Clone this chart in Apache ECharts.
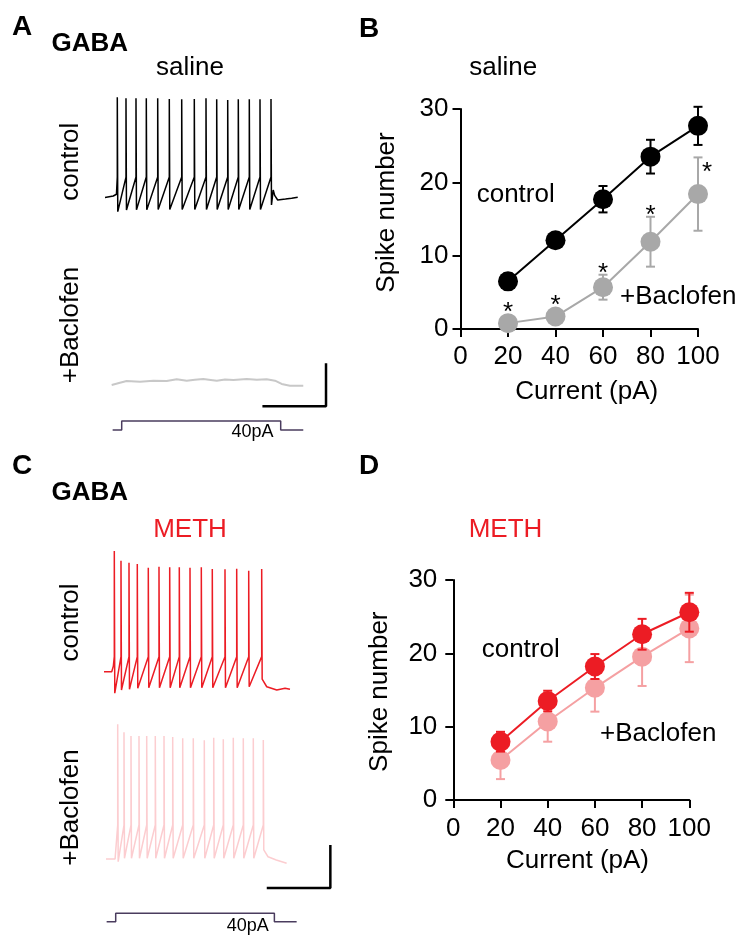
<!DOCTYPE html>
<html><head><meta charset="utf-8">
<script src="https://cdn.jsdelivr.net/npm/echarts@6/dist/echarts.min.js"></script>
<style>html,body{margin:0;padding:0;background:#fff}#c{width:754px;height:949px}</style>
</head><body><div id="c"></div>
<script>
// ---------- F-I curve data (panels B and D) ----------
const currents = [20, 40, 60, 80, 100];
const xTicks = [0, 20, 40, 60, 80, 100];
const yTicks = [0, 10, 20, 30];
const salineCtrlMean = [6.5, 12.1, 17.7, 23.5, 27.7];
const salineCtrlErr  = [1.1, 0.5, 1.8, 2.3, 2.6];
const salineBacMean  = [0.8, 1.7, 5.7, 11.9, 18.4];
const salineBacErr   = [0.3, 0.3, 1.7, 3.4, 5.0];
const salineBacSig   = ['*', '*', '*', '*', '*'];
const methCtrlMean   = [7.95, 13.5, 18.2, 22.6, 25.6];
const methCtrlErr    = [1.35, 1.4, 1.7, 2.1, 2.65];
const methBacMean    = [5.45, 10.7, 15.3, 19.55, 23.4];
const methBacErr     = [2.6, 2.75, 3.25, 4.0, 4.6];

// ---------- example traces (time in ms from step onset, voltage in mV) ----------
// panel A, saline control
const aCtrlPre     = [[-105, -60], [-53, -58.6], [-33, -57]];
const aCtrlSpikeT  = [-27.7, 27, 89.9, 154.7, 226.4, 299.4, 377.4, 456.6, 530.2, 597.5, 666.7, 733.3, 802.5, 869.8, 939];
const aCtrlPeak    = [33.2, 32.3, 32.3, 32.3, 32.3, 31.6, 31.3, 31.6, 32.3, 31.3, 30.7, 31.3, 31.3, 31.3, 31.6];
const aCtrlThresh  = -41;
const aCtrlTrough  = [-73.2, -71.6, -71.5, -71.5, -71.2, -71.2, -71.2, -71.2, -71.2, -71.2, -71.2, -71.2, -71.2, -71.2, -67];
const aCtrlPost    = [[953, -53], [962, -58], [981, -62.3], [1030, -61.5], [1069, -60.7], [1107, -59.8]];
// panel A, saline + baclofen (no spikes)
const aBacTrace = [[-63, -59.3], [-11, -57.2], [31, -55.6], [115, -56.3], [199, -55.3], [283, -55.6], [346, -54],
  [409, -55.3], [460, -54.4], [513, -53.8], [560, -54.6], [598, -55.3], [650, -54.2], [702, -54.7], [745, -54.2], [786, -53.8],
  [850, -54.5], [912, -54], [964, -55.3], [1006, -58.4], [1058, -60], [1142, -60]];
// panel C, METH control
const cCtrlPre     = [[-73.6, -60], [-25, -60], [-15, -55]];
const cCtrlSpikeT  = [-8.8, 33.3, 83.6, 135.8, 205, 272.3, 339.6, 400, 467.3, 538.4, 607.5, 687.4, 761, 836.5, 918.2];
const cCtrlPeak    = [52.3, 43.3, 41.4, 40.2, 36.7, 37.7, 37.1, 37.1, 36.7, 37.1, 35.5, 35.3, 35.8, 34, 35.5];
const cCtrlThresh  = -46;
const cCtrlTrough  = [-80, -77, -76.4, -75.4, -74.9, -74.9, -74.9, -74.9, -74.9, -74.9, -74.9, -74.9, -74.9, -74, -67];
const cCtrlPost    = [[928, -67.5], [950, -74], [1013, -77], [1065, -75.4], [1096, -76.4]];
// panel C, METH + baclofen
const cBacPre      = [[-61, -60], [-4, -60]];
const cBacSpikeT   = [12.6, 52.2, 96.2, 146.5, 195, 249, 303.8, 358.5, 421.4, 488, 557.2, 616.4, 676.7, 739.6, 802.5, 865.4, 928.3];
const cBacPeak     = [65.3, 57.9, 54.4, 54.4, 54.4, 54.4, 54.4, 53.5, 52.3, 52.3, 50.4, 52.8, 51.3, 52.8, 52.3, 52.3, 50.7];
const cBacThresh   = -28.4;
const cBacTrough   = [-62.5, -59.3, -59.3, -59.3, -59.3, -59.3, -59.3, -59.3, -59.3, -59.3, -59.3, -59.3, -59.3, -59.3, -59.3, -59.3, -51.6];
const cBacPost     = [[958, -57.9], [1010, -60.9], [1075, -64]];
// current step (pA) and scale bars (400 ms, 40 mV)
const stimA = [[-57, 0], [0, 0], [0, 40], [1000, 40], [1000, 0], [1142, 0]];
const stimC = [[-57, 0], [0, 0], [0, 40], [998, 40], [998, 0], [1138, 0]];
const scaleBarA = [[885, -79], [1285, -79], [1285, -39]];
const scaleBarC = [[950, -87], [1350, -87], [1350, -47]];

function buildTrace(pre, times, peaks, thr, troughs, post) {
  const pts = pre.map(p => p.slice());
  times.forEach((t, i) => { pts.push([t, thr]); pts.push([t, peaks[i]]); pts.push([t + 3, troughs[i]]); });
  return pts.concat(post);
}

const FONT = '"Liberation Sans", Arial, Helvetica, sans-serif';
const RED = '#ec1c24', PINK = '#f5a0a2', PINK_TR = '#fccdd0', GRAY = '#a8a8a8', GRAY_TR = '#c8c8c8', STIM = '#4a3c5e';

function errRender(color, sig) {
  return function (params, api) {
    const x = api.value(0), m = api.value(1), e = api.value(2);
    const pT = api.coord([x, m + e]), pB = api.coord([x, m - e]), pM = api.coord([x, m]);
    const hw = 4.5, st = { stroke: color, lineWidth: 2 };
    const ch = [
      { type: 'line', shape: { x1: pT[0], y1: pT[1], x2: pB[0], y2: pB[1] }, style: st },
      { type: 'line', shape: { x1: pT[0] - hw, y1: pT[1], x2: pT[0] + hw, y2: pT[1] }, style: st },
      { type: 'line', shape: { x1: pB[0] - hw, y1: pB[1], x2: pB[0] + hw, y2: pB[1] }, style: st }
    ];
    if (sig && sig[params.dataIndex]) {
      const last = params.dataIndex === sig.length - 1;
      const top = Math.min(pT[1], pM[1] - 10);
      ch.push({ type: 'text', x: last ? pT[0] + 9 : pT[0], y: last ? pT[1] + 15 : top - 0.5,
        style: { text: sig[params.dataIndex], fontSize: 26, fontFamily: FONT, fill: '#000', align: 'center', verticalAlign: 'middle' } });
    }
    return { type: 'group', children: ch };
  };
}

function zip3(a, b, c) { return a.map((v, i) => [v, b[i], c[i]]); }
function zip2(a, b) { return a.map((v, i) => [v, b[i]]); }

function fiAxes(g, labelMarginX, labelMarginY) {
  const common = {
    type: 'value', gridIndex: g,
    axisLine: { show: true, lineStyle: { color: '#000', width: 2 } },
    axisTick: { show: true, length: 8, lineStyle: { color: '#000', width: 2 } },
    splitLine: { show: false },
    axisLabel: { color: '#000', fontSize: 26, fontFamily: FONT }
  };
  return {
    x: Object.assign({}, common, { min: xTicks[0], max: xTicks[xTicks.length - 1], interval: xTicks[1] - xTicks[0],
      axisLabel: Object.assign({}, common.axisLabel, { margin: labelMarginX }) }),
    y: Object.assign({}, common, { min: yTicks[0], max: yTicks[yTicks.length - 1], interval: yTicks[1] - yTicks[0],
      axisLabel: Object.assign({}, common.axisLabel, { margin: labelMarginY }) })
  };
}
const axB = fiAxes(0, 15, 12), axD = fiAxes(1, 16, 16);
function hid(g, min, max) { return { type: 'value', gridIndex: g, min: min, max: max, show: false }; }
function gridOf(l, t, w, h) { return { left: l, top: t, width: w, height: h, containLabel: false, outerBoundsMode: 'none' }; }

const TW = 246.45; // 1550 ms at 0.159 px/ms
const option = {
  animation: false,
  backgroundColor: '#fff',
  textStyle: { fontFamily: FONT },
  grid: [
    gridOf(460.5, 109, 237.5, 220),   // 0 B
    gridOf(453.3, 580, 236, 220),     // 1 D
    gridOf(97.85, 68.5, TW, 161.25),  // 2 A control
    gridOf(97.85, 256.7, TW, 161.25), // 3 A baclofen
    gridOf(97.85, 416.5, TW, 18),     // 4 A stim
    gridOf(91.85, 542.7, TW, 161.25), // 5 C control
    gridOf(91.85, 708.5, TW, 182.75), // 6 C baclofen
    gridOf(91.85, 909.1, TW, 16.8)    // 7 C stim
  ],
  xAxis: [axB.x, axD.x, hid(2, -150, 1400), hid(3, -150, 1400), hid(4, -150, 1400), hid(5, -150, 1400), hid(6, -150, 1400), hid(7, -150, 1400)],
  yAxis: [axB.y, axD.y, hid(2, -90, 60), hid(3, -90, 60), hid(4, -20, 60), hid(5, -90, 60), hid(6, -90, 80), hid(7, -20, 60)],
  series: [
    // panel B
    { type: 'custom', xAxisIndex: 0, yAxisIndex: 0, z: 1, renderItem: errRender(GRAY, salineBacSig), data: zip3(currents, salineBacMean, salineBacErr) },
    { type: 'line', xAxisIndex: 0, yAxisIndex: 0, z: 2, data: zip2(currents, salineBacMean), symbol: 'circle', symbolSize: 20,
      itemStyle: { color: GRAY }, lineStyle: { color: GRAY, width: 2 } },
    { type: 'custom', xAxisIndex: 0, yAxisIndex: 0, z: 3, renderItem: errRender('#000', null), data: zip3(currents, salineCtrlMean, salineCtrlErr) },
    { type: 'line', xAxisIndex: 0, yAxisIndex: 0, z: 4, data: zip2(currents, salineCtrlMean), symbol: 'circle', symbolSize: 20,
      itemStyle: { color: '#000' }, lineStyle: { color: '#000', width: 2 } },
    // panel D
    { type: 'custom', xAxisIndex: 1, yAxisIndex: 1, z: 1, renderItem: errRender(PINK, null), data: zip3(currents, methBacMean, methBacErr) },
    { type: 'line', xAxisIndex: 1, yAxisIndex: 1, z: 2, data: zip2(currents, methBacMean), symbol: 'circle', symbolSize: 20,
      itemStyle: { color: PINK }, lineStyle: { color: PINK, width: 2 } },
    { type: 'custom', xAxisIndex: 1, yAxisIndex: 1, z: 3, renderItem: errRender(RED, null), data: zip3(currents, methCtrlMean, methCtrlErr) },
    { type: 'line', xAxisIndex: 1, yAxisIndex: 1, z: 4, data: zip2(currents, methCtrlMean), symbol: 'circle', symbolSize: 20,
      itemStyle: { color: RED }, lineStyle: { color: RED, width: 2 } },
    // traces
    { type: 'line', xAxisIndex: 2, yAxisIndex: 2, showSymbol: false, symbol: 'none', clip: false, lineStyle: { color: '#000', width: 1.5 },
      data: buildTrace(aCtrlPre, aCtrlSpikeT, aCtrlPeak, aCtrlThresh, aCtrlTrough, aCtrlPost) },
    { type: 'line', xAxisIndex: 3, yAxisIndex: 3, showSymbol: false, symbol: 'none', clip: false, lineStyle: { color: GRAY_TR, width: 2 }, data: aBacTrace },
    { type: 'line', xAxisIndex: 3, yAxisIndex: 3, showSymbol: false, symbol: 'none', clip: false, lineStyle: { color: '#000', width: 2.5 }, data: scaleBarA },
    { type: 'line', xAxisIndex: 4, yAxisIndex: 4, showSymbol: false, symbol: 'none', clip: false, lineStyle: { color: STIM, width: 1.5 }, data: stimA },
    { type: 'line', xAxisIndex: 5, yAxisIndex: 5, showSymbol: false, symbol: 'none', clip: false, lineStyle: { color: RED, width: 1.5 },
      data: buildTrace(cCtrlPre, cCtrlSpikeT, cCtrlPeak, cCtrlThresh, cCtrlTrough, cCtrlPost) },
    { type: 'line', xAxisIndex: 6, yAxisIndex: 6, showSymbol: false, symbol: 'none', clip: false, lineStyle: { color: PINK_TR, width: 1.5 },
      data: buildTrace(cBacPre, cBacSpikeT, cBacPeak, cBacThresh, cBacTrough, cBacPost) },
    { type: 'line', xAxisIndex: 6, yAxisIndex: 6, showSymbol: false, symbol: 'none', clip: false, lineStyle: { color: '#000', width: 2.5 }, data: scaleBarC },
    { type: 'line', xAxisIndex: 7, yAxisIndex: 7, showSymbol: false, symbol: 'none', clip: false, lineStyle: { color: STIM, width: 1.5 }, data: stimC }
  ],
  graphic: []
};

function txt(text, x, y, size, opts) {
  opts = opts || {};
  return { type: 'text', x: x, y: y, rotation: opts.rot || 0, silent: true,
    style: { text: text, fontSize: size, fontFamily: FONT, fontWeight: opts.bold ? 'bold' : 'normal', fill: opts.color || '#000',
      align: opts.align || 'center', verticalAlign: 'middle' } };
}
const R90 = Math.PI / 2;
option.graphic = [
  txt('A', 12, 27, 28, { bold: true, align: 'left' }),
  txt('GABA', 51.5, 44.2, 26, { bold: true, align: 'left' }),
  txt('saline', 190, 68.3, 26),
  txt('control', 71, 161.7, 26, { rot: R90 }),
  txt('+Baclofen', 71, 325, 26, { rot: R90 }),
  txt('40pA', 231.5, 432, 18, { align: 'left' }),
  txt('B', 359, 29.5, 28, { bold: true, align: 'left' }),
  txt('saline', 503.3, 68.3, 26),
  txt('control', 476.7, 195, 26, { align: 'left' }),
  txt('+Baclofen', 620, 297, 26, { align: 'left' }),
  txt('Spike number', 387, 212.5, 26, { rot: R90 }),
  txt('Current (pA)', 586.7, 391.5, 26),
  txt('C', 12, 466.5, 28, { bold: true, align: 'left' }),
  txt('GABA', 51.5, 492.6, 26, { bold: true, align: 'left' }),
  txt('METH', 190, 530, 26, { color: RED }),
  txt('control', 71, 622.5, 26, { rot: R90 }),
  txt('+Baclofen', 71, 807.5, 26, { rot: R90 }),
  txt('40pA', 226.7, 926, 18, { align: 'left' }),
  txt('D', 359, 466.5, 28, { bold: true, align: 'left' }),
  txt('METH', 505.5, 530.3, 26, { color: RED }),
  txt('control', 481.7, 650, 26, { align: 'left' }),
  txt('+Baclofen', 600, 734.3, 26, { align: 'left' }),
  txt('Spike number', 380, 691.7, 26, { rot: R90 }),
  txt('Current (pA)', 577.5, 860.5, 26)
];

const chart = echarts.init(document.getElementById('c'), null, { renderer: 'canvas' });
chart.setOption(option);
</script>
</body></html>
